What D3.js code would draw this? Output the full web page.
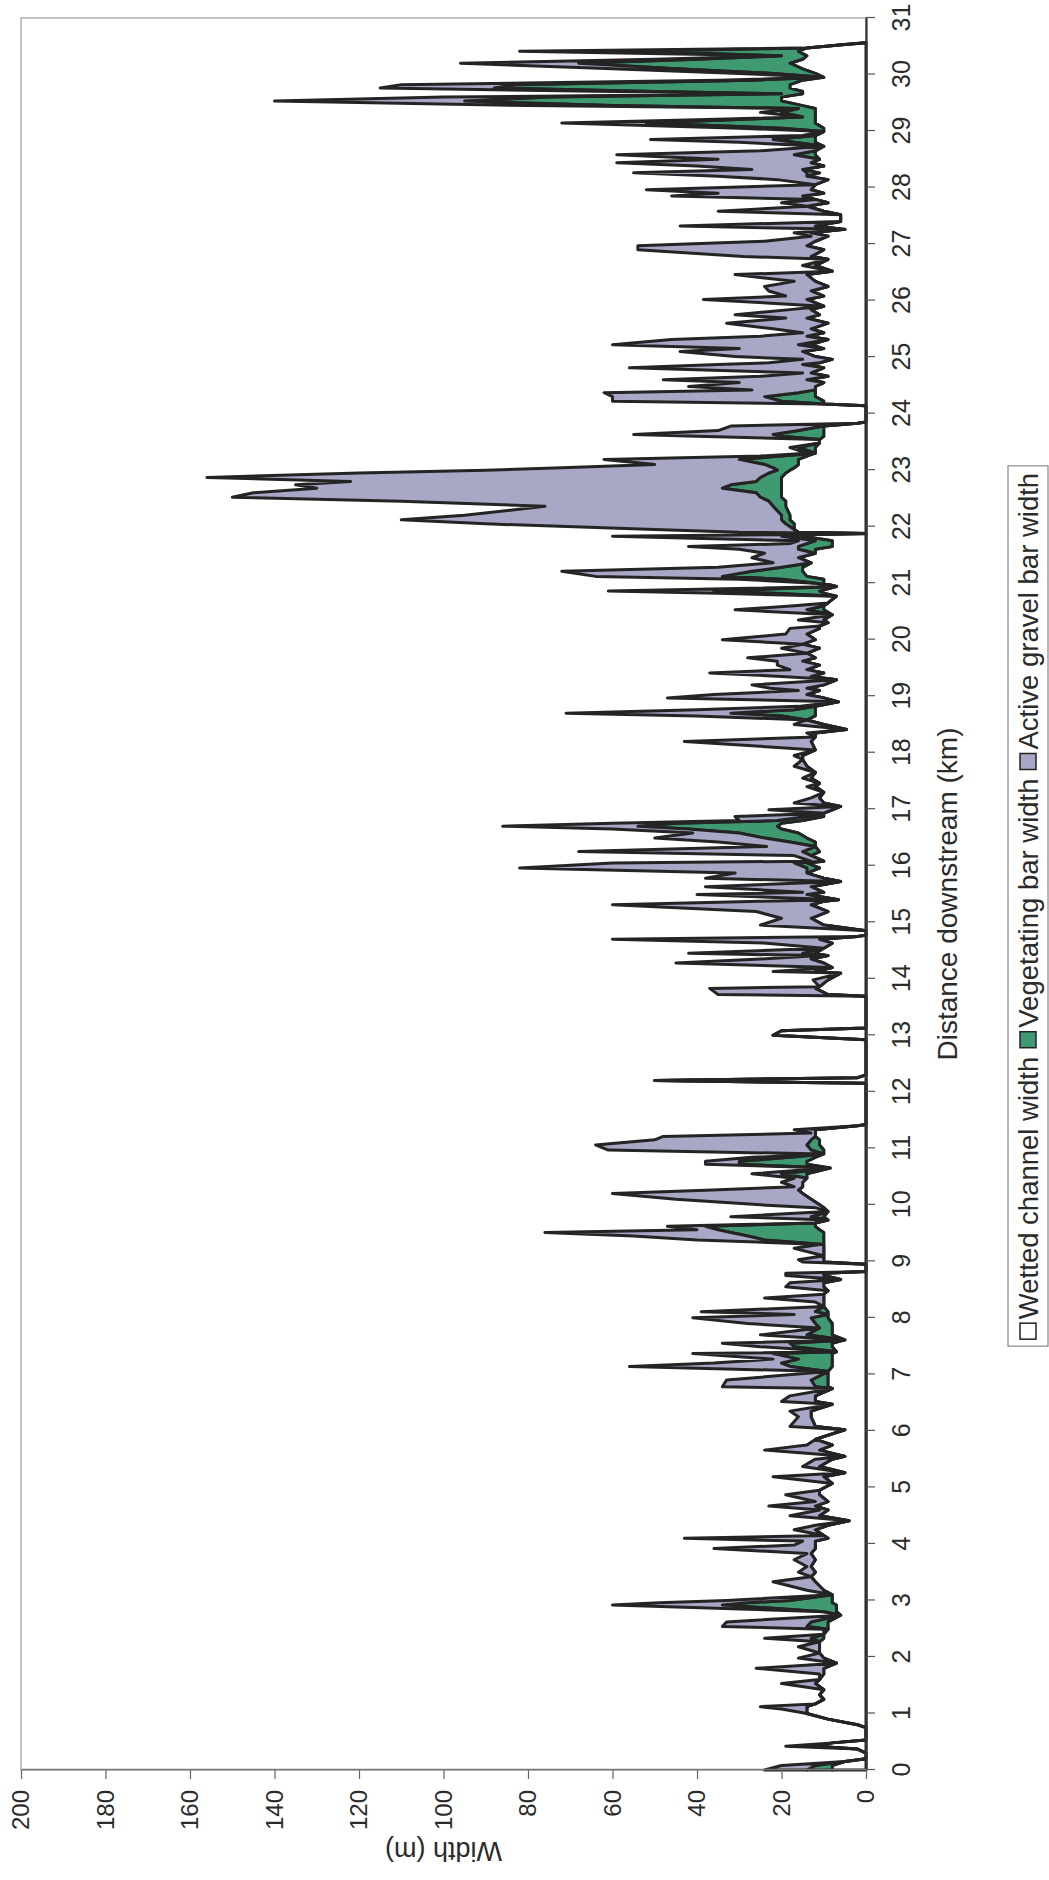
<!DOCTYPE html>
<html><head><meta charset="utf-8">
<script src="https://cdn.jsdelivr.net/npm/d3@7"></script>
<style>
body{margin:0;background:#fff}
svg{display:block}
text{font-family:"Liberation Sans",Arial,sans-serif;fill:#2b2b2b}
</style>
</head><body>
<svg id="c" width="1049" height="1880"></svg>
<script>
// Distance downstream (km)
const distanceKm = [
0,0.08,0.15,0.2,0.3,0.37,0.42,0.48,0.53,0.75, 0.8,0.9,1.0,1.08,1.12,1.17,1.25,1.33,1.42,1.53, 1.6,1.7,1.8,1.89,1.98,2.07,2.18,2.27,2.33,2.4, 2.49,2.54,2.62,2.74,2.8,2.92,2.96,3.0,3.1,3.18, 3.33,3.42,3.5,3.6,3.72,3.83,3.92,3.98,
4.05,4.1,4.15,4.25,4.33,4.41,4.5,4.6,4.67,4.75, 4.87,4.95,5.07,5.19,5.26,5.37,5.5,5.55,5.66,5.75, 5.85,6.02,6.08,6.25,6.35,6.47,6.52,6.62,6.75,6.78, 6.9,7.05,7.14,7.2,7.27,7.37,7.4,7.49,7.55,7.61, 7.7,7.82,7.9,8.0,8.06,8.11,
8.2,8.28,8.35,8.42,8.48,8.55,8.62,8.68,8.75,8.79, 8.82,8.95,8.99,9.03,9.1,9.23,9.3,9.38,9.45,9.51, 9.56,9.62,9.68,9.73,9.79,9.88,9.95,10.0,10.1,10.2, 10.26,10.32,10.4,10.47,10.55,10.65,10.72,10.77,10.84,10.9, 10.97,11.06,11.15,11.21,11.27,11.33,11.4,11.42,12.15,12.2, 12.25,12.3,
12.92,13.0,13.08,13.13,13.69,13.72,13.83,13.86,13.98,14.1, 14.13,14.2,14.28,14.35,14.41,14.45,14.54,14.63,14.7,14.75, 14.77,14.85,14.95,15.07,15.19,15.31,15.37,15.4,15.49,15.53, 15.63,15.72,15.78,15.87,15.96,16.05,16.08,16.18,16.25,
16.34,16.42,16.49,16.58,16.65,16.7,16.75,16.8,16.87,16.93, 16.99,17.05,17.11,17.2,17.3,17.4,17.46,17.55,17.65,17.76, 17.88,17.95,18.05,18.2,18.28,18.35,18.41,18.5,18.58,18.65, 18.7,18.76,18.82,18.9,18.97,19.03,19.1,19.14,19.2,19.29, 19.35,19.41,19.47,19.55,19.62,19.68,19.76,19.85,19.92,20.0, 20.1,20.2,20.24,20.3,
20.35,20.44,20.53,20.6,20.65,20.77,20.82,20.86,20.94,21.0, 21.07,21.12,21.21,21.28,21.36,21.45,21.53,21.6,21.65,21.7, 21.75,21.83,21.86,21.88,21.9,21.95,22.05,22.12,22.2,22.36, 22.45,22.52,22.6,22.68,22.74,22.8,22.87,22.95,23.0,23.04, 23.1,23.19,23.25,23.3,23.4,23.48,23.54,23.6,23.63,23.7, 23.78,23.83,23.85,24.14,24.17,24.22,24.3,24.37,24.42,24.48,
24.55,24.6,24.66,24.72,24.81,24.87,24.9,24.96,25.01,25.1, 25.15,25.22,25.31,25.37,25.43,25.5,25.6,25.69,25.75,25.84, 25.9,26.02,26.08,26.17,26.25,26.34,26.46,26.52,26.62,26.73, 26.78,26.9,26.97,27.05,27.14,27.2,27.26,27.32,27.4,27.52, 27.58,27.67,27.73,27.79,27.85,27.9,27.96,28.05,28.14,28.2, 28.26,28.32,28.38,28.44,28.5,
28.58,28.65,28.73,28.8,28.85,28.92,28.99,29.05,29.14,29.2, 29.25,29.33,29.4,29.45,29.53,29.6,29.66,29.7,29.76,29.82, 29.9,29.95,30.02,30.1,30.2,30.27,30.33,30.41,30.47,30.53, 30.56
];
// Wetted channel width (m)
const wettedWidth = [
8,8,5,0,0,2,12,8,0,0, 2,9,14,14,14,12,10,11,10,12, 11,10,10,7,10,11,11,11,10,10, 9,9,9,6,7,7,8,8,8,10, 12,13,12,13,12,13,12,12,
12,9,10,12,9,4,11,9,12,9, 11,11,8,10,5,11,8,5,11,8, 12,5,12,13,13,8,12,12,8,9, 9,9,8,8,8,8,7,8,8,5, 8,8,8,9,9,9,
10,10,10,10,9,10,10,6,10,10, 0,0,10,10,10,10,10,10,10,10, 11,12,12,9,10,9,10,11,13,15, 16,15,15,14,14,8.5,14,14,12,10, 10,11,11,12,12,12,2,0,0,50, 2,0,
0,22,20,0,0,9,12,11,9,6, 12,8,10,13,9,12,10,8,11,2, 0,0,10,13,9,13,10,6.5,14,10, 13,6,10,14,11,14,10,13,11,
12,12,14,16,20,21,20,15,10,10, 8,6,10,11,10,12,11,13,12,14, 15,15,12,13,12,12,4.6,10,14,12, 12,12,12,6.5,10,14,11,14,10,7, 13,10,14,11,15,12,14,11,15,12, 14,11,11,9,
10,8,10,10,9,7,10,11,7,10, 10,14,15,15,13,16,12,12,8,8, 8,15,12,0,16,17,17,18,18,19, 19,20,20,20,20,20,20,19,18,17, 16,16,14,12,12,11,11,10,10,10, 10,2,0,0,10,10,12,12,12,12,
10,14,9,13,10,15,11,8,12,15, 10,13,9,14,10,13,9,14,11,13, 10,14,10,13,9,12,14,8,12,9, 13,10,14,12,9,13,5,12,6,6, 10,14,9,12,15,10,13,12,9,14, 11,15,10,13,11,
12,12,10,12,12,12,10,10,12,12, 12,12,12,15,20,20,15,15,18,18, 15,10,12,15,18,15,14,16,14,5, 0
];
// Vegetating bar width (m)
const vegetatingWidth = [
6,4,0,0,0,0,0,0,0,0, 0,0,0,0,0,0,0,0,0,0, 0,0,0,0,0,0,0,0,3,0, 0,5,4,0,3,27,20,10,0,0, 0,0,0,0,0,0,0,0,
0,0,0,0,0,0,0,0,0,0, 0,0,0,0,0,0,0,0,0,0, 0,0,0,0,0,0,0,0,0,3, 4,0,10,12,8,14,0,9,10,0, 6,3,4,4,0,3,
0,0,0,0,0,0,0,0,0,0, 0,0,0,0,0,0,0,14,18,22, 24,26,0,0,3,0,0,0,0,0, 0,0,0,0,6,0,16,16,6,0, 3,3,2,0,0,0,0,0,0,0, 0,0,
0,0,0,0,0,0,0,0,0,0, 0,0,0,0,0,3,0,0,0,0, 0,0,0,0,0,0,0,0,0,0, 0,0,0,0,3,3,0,0,4,
0,6,10,14,22,33,25,6,4,0, 0,0,0,0,0,0,0,0,0,0, 0,0,0,0,0,0,0,0,0,8, 20,5,0,0,0,0,0,0,0,0, 0,0,0,0,0,0,0,0,0,0, 0,0,0,0,
0,0,4,0,0,0,12,25,0,2, 10,20,12,5,0,0,0,4,8,6, 4,5,0,0,0,0,2,2,2,3, 4,5,6,14,12,6,5,4,3,5, 8,14,6,0,4,0,0,10,12,6, 0,0,0,0,0,10,12,4,0,0,
0,0,0,0,0,0,0,0,0,0, 0,3,0,0,0,0,0,0,0,0, 0,0,0,0,0,0,0,0,0,0, 0,0,0,0,0,0,0,0,0,0, 0,0,0,0,0,0,0,0,0,0, 3,0,0,0,0,
5,0,0,5,10,0,0,10,40,20, 3,8,4,45,75,55,5,35,70,65, 12,0,10,30,50,25,6,40,0,0, 0
];
// Active gravel bar width (m)
const activeGravelWidth = [
10,8,0,0,0,0,7,0,0,0, 0,0,0,6,11,0,0,0,0,8, 0,1,16,0,6,0,5,0,11,0, 1,20,20,0,0,26,21,15,0,4, 10,0,4,1,5,1,24,5,
3,34,0,5,3,0,7,2,11,3, 8,0,0,12,0,4,4,0,13,6, 0,0,6,3,5,0,8,6,0,22, 20,0,38,16,6,19,0,8,16,0, 11,0,16,28,8,27,
0,2,14,0,0,9,8,0,9,9, 0,0,5,6,0,7,1,16,27,44, 5,9,0,0,19,0,2,14,32,45, 22,2,5,3,7,0,8,8,9,0, 48,50,37,36,1,5,0,0,0,0, 0,0,
0,0,0,0,0,26,25,0,3.5,0, 10,0,35,12,2,27,0,15.5,49,0, 0,0,15,7,17,47,15,0,26,5, 25,0,28,17,68,43,3,4,53,
11.5,17,26,11,18,32,15,9,17,0, 15,0,7,2,0,2,0,2,0,3, 0,2,0,30,0,2,0,7,0,20, 39,23,4,0,37,22,5,8.7,17,0, 7,27,4,10,6,16,0,9,0,22, 5,7,0,0,
6,0,17,7,0,0,13,25,0,0, 10,30,45,15,9,11,12,14,26,4, 4,40,8,0,14,33,71,90,75,54, 87,125,119,96,103,96,131,97,69,50, 26,32,5,2,2,0,0,20,33,19, 22,0,0,0,0,40,36,46,15,30,
20,34,16,2,46,20,12,7,19,29, 20,44,37,11,5,9,24,5,20,5, 0,24.5,9,10,15,5,17,0,3,0, 16,44,40,12,4,4,0,32,0,0, 25,0,11,0,31,25,39,0,12,21, 41,12,30,46,24,
42,13,0,13,29,3,0,10,20,8, 0,5,0,20,45,25,0,10,27,27, 8,0,8,15,28,10,0,26,0,0, 0
];
const seriesNames = ["Wetted channel width", "Vegetating bar width", "Active gravel bar width"];
const seriesColors = ["#ffffff", "#3f9a72", "#a8a7c6"];
const distanceTicks = [0,1,2,3,4,5,6,7,8,9,10,11,12,13,14,15,16,17,18,19,20,21,22,23,24,25,26,27,28,29,30,31];
const widthTicks = [0,20,40,60,80,100,120,140,160,180,200];

if (!(distanceKm.length === wettedWidth.length && wettedWidth.length === vegetatingWidth.length && vegetatingWidth.length === activeGravelWidth.length)) {
  throw new Error("length mismatch " + [distanceKm.length, wettedWidth.length, vegetatingWidth.length, activeGravelWidth.length].join(","));
}

const W = 1752, H = 845;
const svg = d3.select("#c");
// the chart is drawn in a normal frame, then turned a quarter turn counter-clockwise
const g = svg.append("g").attr("transform", "translate(21,1770) rotate(-90)");
const x = d3.scaleLinear().domain([0, 31]).range([0, W]);
const y = d3.scaleLinear().domain([0, 200]).range([H, 0]);

const rows = distanceKm.map((d, i) => ({km: d, wetted: wettedWidth[i], veg: vegetatingWidth[i], active: activeGravelWidth[i]}));
const keys = ["wetted", "veg", "active"];
const layers = d3.stack().keys(keys)(rows);

// plot frame
g.append("rect").attr("x", 0).attr("y", 0).attr("width", W).attr("height", H)
  .attr("fill", "none").attr("stroke", "#9a9a9a").attr("stroke-width", 1.2);

const area = d3.area().x(d => x(d.data.km)).y0(d => y(d[0])).y1(d => y(d[1]));
g.append("g").selectAll("path").data(layers).join("path")
  .attr("d", area)
  .attr("fill", (d, i) => seriesColors[i])
  .attr("stroke", "#242424").attr("stroke-width", 3).attr("stroke-linejoin", "round");

// distance axis (drawn at the original bottom)
const xAxis = d3.axisBottom(x).tickValues(distanceTicks).tickSize(9).tickSizeOuter(0).tickPadding(17).tickFormat(d3.format("d"));
const gx = g.append("g").attr("transform", `translate(0,${H})`).call(xAxis);
gx.select(".domain").attr("stroke", "#333").attr("stroke-width", 2.2);
gx.selectAll(".tick line").attr("stroke", "#555").attr("stroke-width", 1.2);
gx.selectAll(".tick text").attr("font-size", 25).attr("fill", "#2b2b2b");

// width axis
const yAxis = d3.axisLeft(y).tickValues(widthTicks).tickSize(9).tickSizeOuter(0).tickPadding(11).tickFormat(d3.format("d"));
const gy = g.append("g").call(yAxis);
gy.select(".domain").attr("stroke", "#777").attr("stroke-width", 1.6);
gy.selectAll(".tick line").attr("stroke", "#666").attr("stroke-width", 1.2);
gy.selectAll(".tick text").attr("font-size", 24).attr("fill", "#2b2b2b");

// axis titles
g.append("text").attr("x", W / 2).attr("y", H + 91).attr("text-anchor", "middle")
  .attr("font-size", 28).text("Distance downstream (km)");
g.append("text").attr("transform", `translate(-72,${H / 2}) rotate(-90)`).attr("text-anchor", "middle")
  .attr("font-size", 27).text("Width (m)");

// legend
const legend = g.append("g");
const fs = 27.5, sw = 16, gapText = 4, gapItem = 9;
const items = legend.selectAll("g").data(seriesNames).join("g");
items.append("rect").attr("width", sw).attr("height", sw).attr("y", -sw / 2)
  .attr("fill", (d, i) => seriesColors[i]).attr("stroke", "#222").attr("stroke-width", 1.5);
items.append("text").attr("x", sw + gapText).attr("dy", "0.35em").attr("font-size", fs).text(d => d);
let offs = 0;
const widths = [];
items.each(function () { const tw = d3.select(this).select("text").node().getComputedTextLength(); widths.push(sw + gapText + tw); });
items.attr("transform", (d, i) => { const o = offs; offs += widths[i] + (i < seriesNames.length - 1 ? gapItem : 0); return `translate(${o},0)`; });
const total = offs;
const legendCy = H + 162;
legend.attr("transform", `translate(${W / 2 - total / 2 - 12},${legendCy})`);
legend.insert("rect", ":first-child").attr("x", -7).attr("y", -20).attr("width", total + 14).attr("height", 40)
  .attr("fill", "#fff").attr("stroke", "#888").attr("stroke-width", 1.2);
</script>
</body></html>
